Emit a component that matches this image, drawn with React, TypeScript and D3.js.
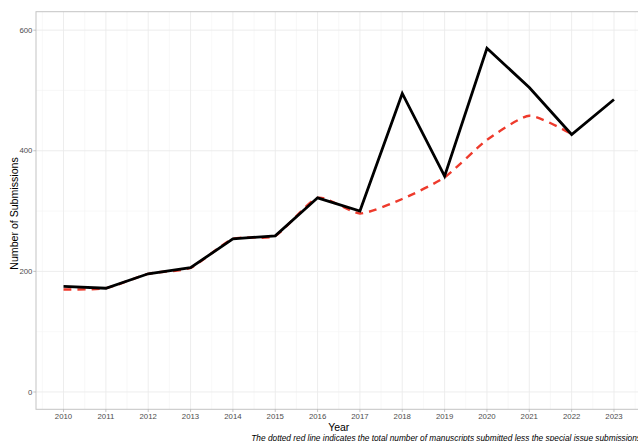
import React from 'react';
import * as d3 from 'd3';

// years on the x axis
const years = [2010, 2011, 2012, 2013, 2014, 2015, 2016, 2017, 2018, 2019, 2020, 2021, 2022, 2023];
// total submissions (black line)
const totalSubmissions = [175, 172, 196, 206, 254, 259, 322, 300, 495, 358, 570, 505, 427, 485];
// total less the special issue submissions (red dashed line)
const lessSpecialIssue = [170, 172, 196, 206, 254, 259, 322, 296, 320, 356, 418, 458, 428];
const yTicks = [0, 200, 400, 600];
const yMinorTicks = [100, 300, 500];

const W = 638;
const H = 441;
const panel = { left: 36, right: 641.5, top: 11.7, bottom: 409.3 };
const font = '"Liberation Sans", Arial, Helvetica, sans-serif';

export default function App() {
  const x = d3.scaleLinear().domain([2009.35, 2023.65]).range([panel.left, panel.right]);
  const y = d3.scaleLinear().domain([-28.7, 630.6]).range([panel.bottom, panel.top]);

  const blackLine = d3.line<number>()
    .x((_, i) => x(years[i]))
    .y(d => y(d));

  const redLine = d3.line<number>()
    .x((_, i) => x(years[i]))
    .y(d => y(d))
    .curve(d3.curveCardinal.tension(0.4));

  const minorX = years.slice(0, -1).map(v => v + 0.5).concat([2009.5, 2023.5]);

  return (
    <svg width={W} height={H} style={{ position: 'absolute', left: 0, top: 0, background: '#fff' }}
      fontFamily={font}>
      <defs>
        <clipPath id="panel-clip">
          <rect x={panel.left} y={panel.top} width={panel.right - panel.left} height={panel.bottom - panel.top} />
        </clipPath>
      </defs>

      {/* grid */}
      <g>
        {minorX.map(v => (
          <line key={'mx' + v} x1={x(v)} x2={x(v)} y1={panel.top} y2={panel.bottom} stroke="#f4f4f4" strokeWidth={0.6} />
        ))}
        {yMinorTicks.map(v => (
          <line key={'my' + v} x1={panel.left} x2={panel.right} y1={y(v)} y2={y(v)} stroke="#f4f4f4" strokeWidth={0.6} />
        ))}
        {years.map(v => (
          <line key={'gx' + v} x1={x(v)} x2={x(v)} y1={panel.top} y2={panel.bottom} stroke="#ebebeb" strokeWidth={0.9} />
        ))}
        {yTicks.map(v => (
          <line key={'gy' + v} x1={panel.left} x2={panel.right} y1={y(v)} y2={y(v)} stroke="#ebebeb" strokeWidth={0.9} />
        ))}
      </g>

      {/* lines */}
      <g clipPath="url(#panel-clip)">
        <path d={redLine(lessSpecialIssue) || ''} fill="none" stroke="#ee3a2c" strokeWidth={2.4}
          strokeDasharray="8,6" />
        <path d={blackLine(totalSubmissions) || ''} fill="none" stroke="#000" strokeWidth={2.8}
          strokeLinejoin="miter" />
      </g>

      {/* panel border */}
      <rect x={panel.left} y={panel.top} width={panel.right - panel.left} height={panel.bottom - panel.top}
        fill="none" stroke="#c4c4c4" strokeWidth={1} />

      {/* y axis */}
      {yTicks.map(v => (
        <g key={'yt' + v}>
          <line x1={panel.left - 2.7} x2={panel.left} y1={y(v)} y2={y(v)} stroke="#b3b3b3" strokeWidth={0.8} />
          <text x={panel.left - 3.6} y={y(v)} dy="0.35em" textAnchor="end" fontSize={7.8} fill="#4d4d4d">{v}</text>
        </g>
      ))}

      {/* x axis */}
      {years.map(v => (
        <g key={'xt' + v}>
          <line x1={x(v)} x2={x(v)} y1={panel.bottom} y2={panel.bottom + 2.7} stroke="#b3b3b3" strokeWidth={0.8} />
          <text x={x(v)} y={panel.bottom + 9.3} textAnchor="middle" fontSize={7.8} fill="#4d4d4d">{v}</text>
        </g>
      ))}

      {/* titles */}
      <text x={(panel.left + panel.right) / 2} y={430.5} textAnchor="middle" fontSize={10.5} fill="#000">Year</text>
      <text transform={`translate(18,213.5) rotate(-90)`} textAnchor="middle"
        fontSize={10.6} fill="#000">Number of Submissions</text>

      {/* caption */}
      <text x={641} y={440.6} textAnchor="end" fontSize={8.3} fontStyle="italic" fill="#000">
        The dotted red line indicates the total number of manuscripts submitted less the special issue submissions
      </text>
    </svg>
  );
}
